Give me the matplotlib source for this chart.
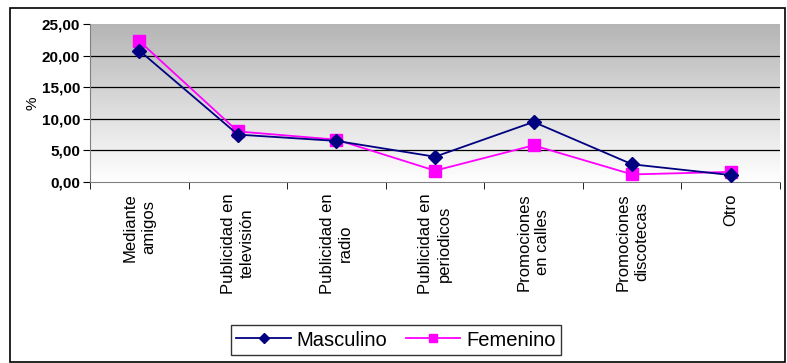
import matplotlib
matplotlib.use("Agg")
import matplotlib.pyplot as plt
import numpy as np
from matplotlib.patches import Rectangle

categories = ["Mediante\namigos", "Publicidad en\ntelevisión", "Publicidad en\nradio",
              "Publicidad en\nperiodicos", "Promociones\nen calles", "Promociones\ndiscotecas", "Otro"]
masculino = [20.8, 7.5, 6.5, 4.0, 9.5, 2.8, 1.1]
femenino = [22.3, 8.0, 6.7, 1.8, 5.8, 1.2, 1.6]
yticks = [0, 5, 10, 15, 20, 25]
ytick_labels = ["0,00", "5,00", "10,00", "15,00", "20,00", "25,00"]

plt.rcParams['font.family'] = ['Liberation Sans', 'DejaVu Sans']
fig = plt.figure(figsize=(7.87, 3.63), dpi=100)
ax = fig.add_axes([90/787, 1-182/363, 690/787, 158/363])

# frame around the whole figure
fig.patches.append(Rectangle((10/787, 1/363), 775/787, 354/363, transform=fig.transFigure,
                             fill=False, edgecolor='black', linewidth=1.2))

x = np.arange(len(categories))
ax.set_xlim(-0.5, len(categories) - 0.5)
ax.set_ylim(0, 25)

# gradient background
grad = np.linspace(1, 0, 256).reshape(-1, 1)
top = np.array([0.71, 0.71, 0.71])
bot = np.array([1.0, 1.0, 1.0])
img = bot + (top - bot) * grad[..., None]
ax.imshow(img, extent=[-0.5, len(categories) - 0.5, 0, 25], aspect='auto', zorder=0, origin='upper')

for yv in yticks[1:-1]:
    ax.axhline(yv, color='black', linewidth=0.9, zorder=1)

ax.plot(x, masculino, color='#000080', marker='D', markersize=7, linewidth=1.3, label='Masculino', zorder=3)
ax.plot(x, femenino, color='#ff00ff', marker='s', markersize=8, linewidth=1.3, label='Femenino', zorder=2)

ax.set_yticks(yticks)
ax.set_yticklabels(ytick_labels, fontsize=11, fontweight='bold')
ax.set_xticks(x)
ax.set_xticklabels(categories, rotation=90, fontsize=12, va='top', linespacing=1.3)
ax.set_xticks(np.arange(-0.5, len(categories) + 0.5, 1), minor=True)
ax.tick_params(axis='x', which='major', length=0, pad=8)
ax.tick_params(axis='x', which='minor', length=5, direction='out')
ax.tick_params(axis='y', length=5, direction='out', pad=2)
ax.set_ylabel('%', fontsize=11, labelpad=2)

for s in ['top', 'right']:
    ax.spines[s].set_visible(False)
ax.spines['left'].set_color('#808080')
ax.spines['bottom'].set_color('#808080')

leg = fig.legend(loc='center', bbox_to_anchor=(396/787, 1-340/363), ncol=2, fontsize=14.5,
                 frameon=True, fancybox=False, edgecolor='black', handlelength=2.7,
                 markerscale=0.8, borderpad=0.25, columnspacing=0.9, handletextpad=0.3)
leg.get_frame().set_linewidth(1.0)

fig.savefig('out.png', dpi=100)
